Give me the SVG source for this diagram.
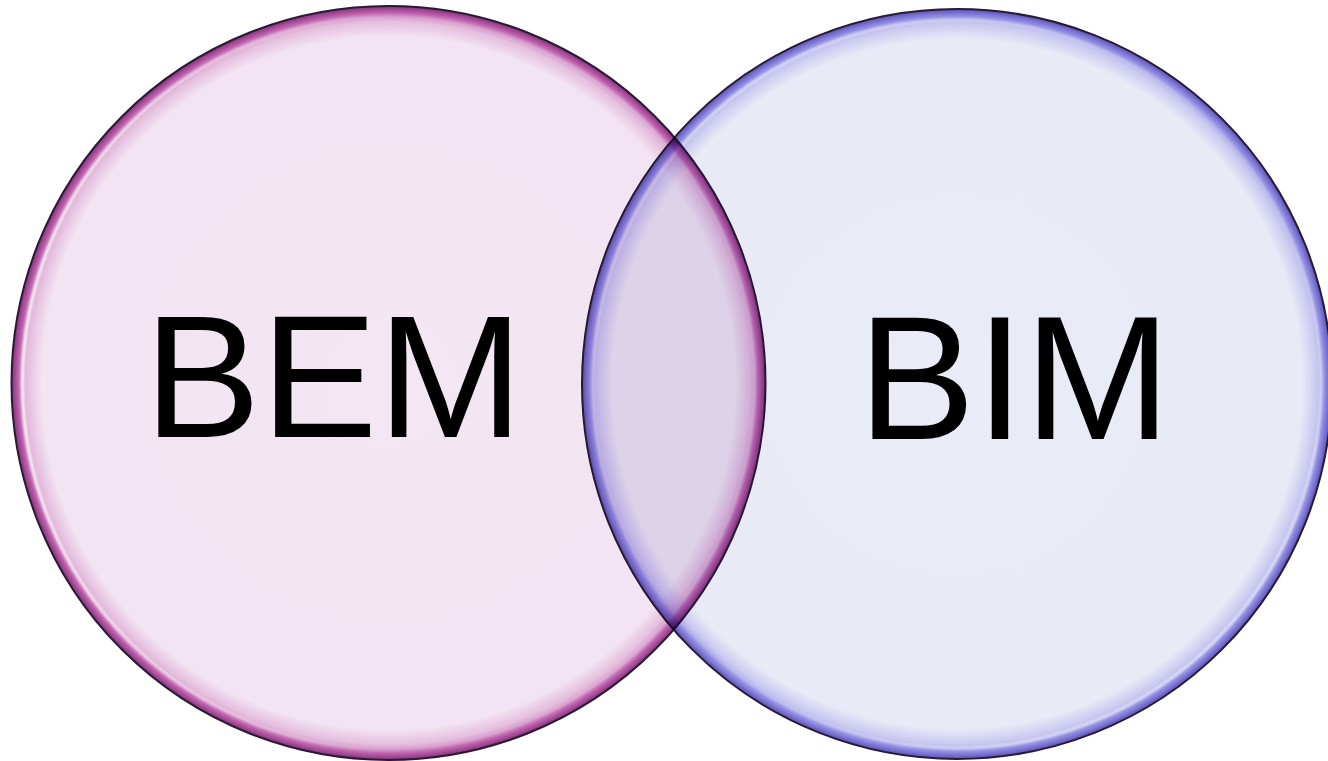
<svg xmlns="http://www.w3.org/2000/svg" width="1328" height="761" viewBox="0 0 1328 761">
  <defs>
    <radialGradient id="gL" cx="0.5" cy="0.5" r="0.5">
      <stop offset="0" stop-color="#F3E7F3"/>
      <stop offset="0.92" stop-color="#F2E4F2"/>
      <stop offset="0.96" stop-color="#E4BCDD"/>
      <stop offset="0.985" stop-color="#BA58A8"/>
      <stop offset="1" stop-color="#7E3479"/>
    </radialGradient>
    <radialGradient id="gR" cx="0.5" cy="0.5" r="0.5">
      <stop offset="0" stop-color="#E9EBF6"/>
      <stop offset="0.92" stop-color="#E8EAF6"/>
      <stop offset="0.96" stop-color="#C9C8F0"/>
      <stop offset="0.985" stop-color="#8780DE"/>
      <stop offset="1" stop-color="#5A52B0"/>
    </radialGradient>
    <linearGradient id="hlL" x1="0" y1="0" x2="1" y2="0">
      <stop offset="0" stop-color="#FFFFFF" stop-opacity="0.85"/>
      <stop offset="0.5" stop-color="#FFFFFF" stop-opacity="0.15"/>
      <stop offset="1" stop-color="#FFFFFF" stop-opacity="0.3"/>
    </linearGradient>
    <linearGradient id="hlR" x1="0" y1="0" x2="1" y2="1">
      <stop offset="0" stop-color="#FFFFFF" stop-opacity="0.7"/>
      <stop offset="0.5" stop-color="#FFFFFF" stop-opacity="0.1"/>
      <stop offset="1" stop-color="#FFFFFF" stop-opacity="0.8"/>
    </linearGradient>
    <filter id="soft" x="-5%" y="-5%" width="110%" height="110%">
      <feGaussianBlur stdDeviation="1.2"/>
    </filter>
  </defs>
  <style>
    .edge { stroke: #2A1A34; stroke-width: 2; }
    .hl { fill: none; stroke-width: 3.5; filter: url(#soft); }
    .lbl { font-family: "Liberation Sans", Arial, sans-serif; fill: #000000; }
  </style>
  <rect width="1328" height="761" fill="#FFFFFF"/>
  <g id="node-bem">
    <circle cx="388.5" cy="383" r="377" fill="url(#gL)" class="edge"/>
    <circle cx="388.5" cy="383" r="366" class="hl" stroke="url(#hlL)"/>
  </g>
  <g id="node-bim" style="mix-blend-mode:multiply">
    <circle cx="957" cy="384" r="375" fill="url(#gR)" class="edge"/>
    <circle cx="957" cy="384" r="364" class="hl" stroke="url(#hlR)"/>
  </g>
  <g id="connectors"></g>
  <g id="labels">
    <text class="lbl" x="144" y="437" font-size="175">BEM</text>
    <text class="lbl" x="858" y="439" font-size="176">BIM</text>
  </g>
</svg>
